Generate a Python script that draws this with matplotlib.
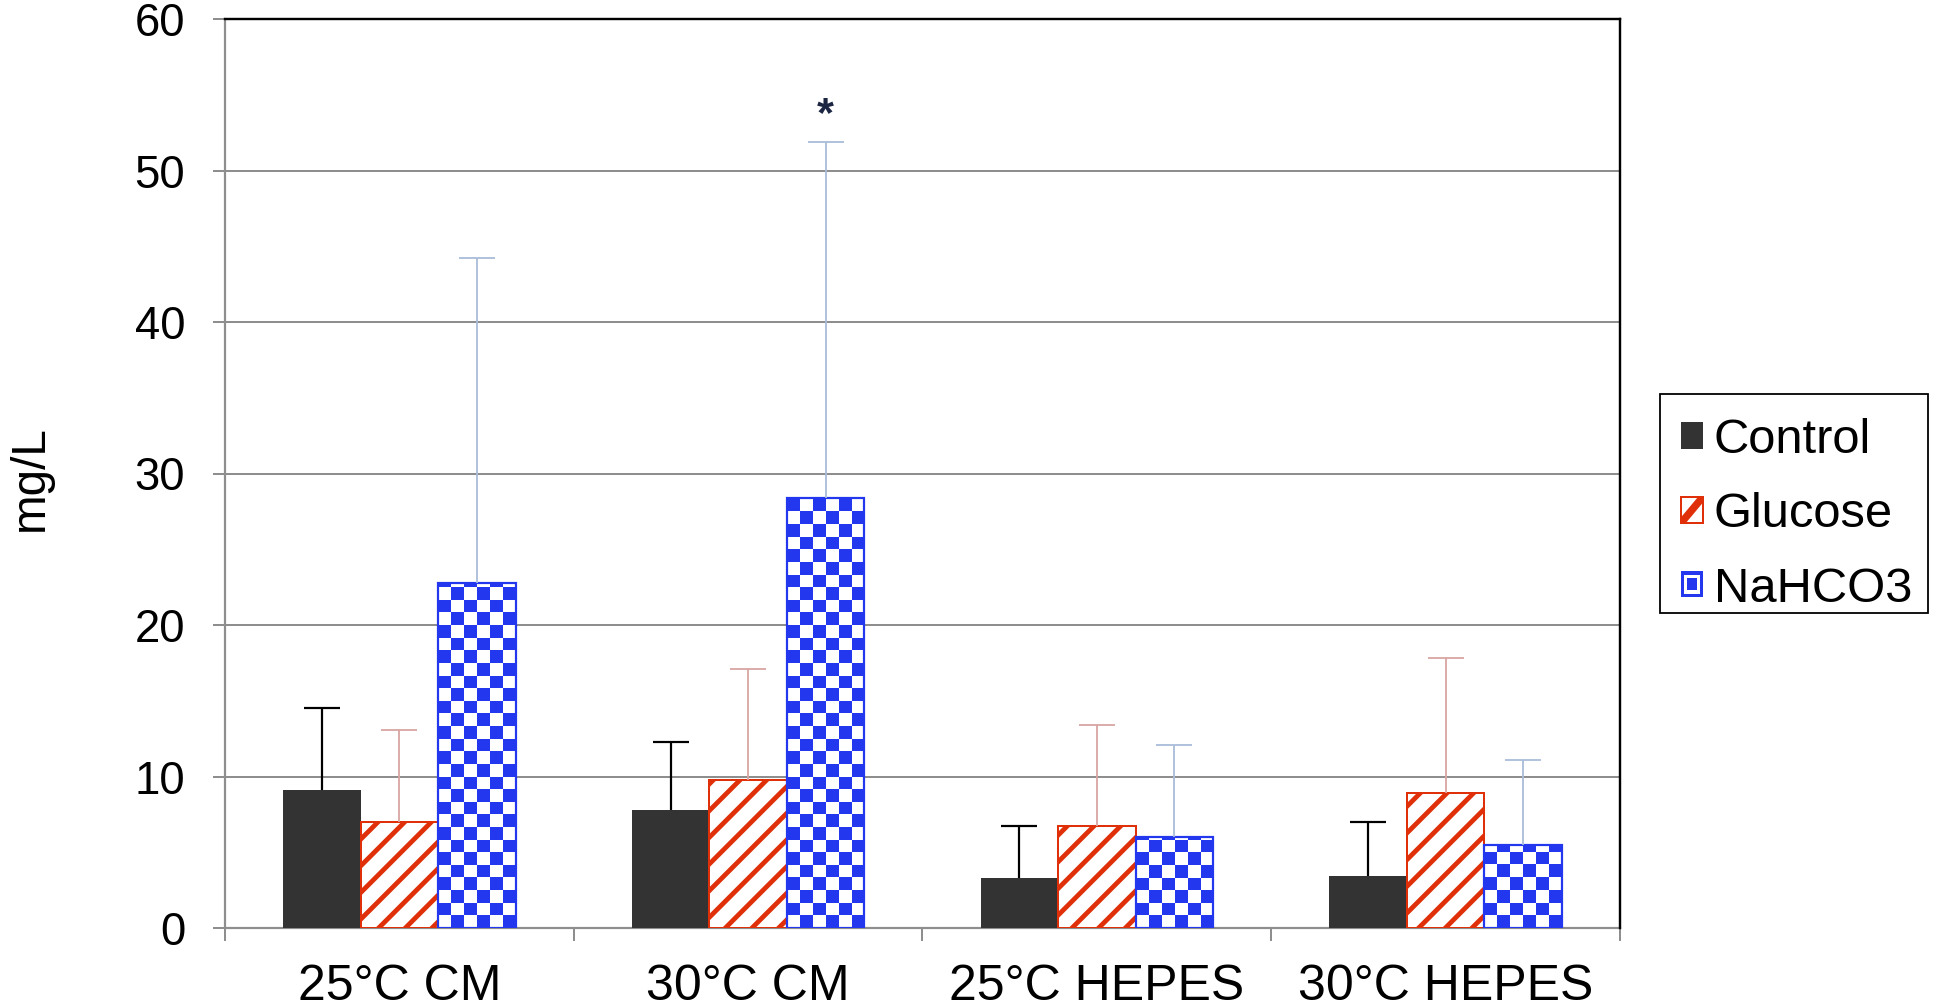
import numpy as np
import matplotlib
matplotlib.use("Agg")
import matplotlib.pyplot as plt
from matplotlib.patches import Rectangle, Polygon
from matplotlib.legend_handler import HandlerBase

# ---- data ----
categories = ["25°C CM", "30°C CM", "25°C HEPES", "30°C HEPES"]
series_names = ["Control", "Glucose", "NaHCO3"]
control = [9.1, 7.8, 3.3, 3.4]
control_err = [5.4, 4.5, 3.4, 3.6]
glucose = [7.0, 9.8, 6.7, 8.9]
glucose_err = [6.1, 7.3, 6.7, 8.9]
nahco3 = [22.8, 28.4, 6.0, 5.5]
nahco3_err = [21.4, 23.5, 6.1, 5.6]
y_ticks = [0, 10, 20, 30, 40, 50, 60]
star_category = 1

# ---- style ----
DPI = 80
W, H = 1933, 1008
plt.rcParams['font.family'] = ['Liberation Sans', 'DejaVu Sans']
plt.rcParams['hatch.linewidth'] = 4.3

C_DARK = '#333333'
C_RED = '#E0300A'
C_BLUE = '#2237EE'
C_RED_ERR = '#D9A5A2'
C_BLUE_ERR = '#A9BDD9'
C_GRID = '#8E8E8E'
ptpx = 72 / DPI  # points per pixel

fig = plt.figure(figsize=(W / DPI, H / DPI), dpi=DPI)
ax = fig.add_axes([225 / W, 1 - 928 / H, (1620 - 225) / W, (928 - 19) / H])

n = len(categories)
centers = np.arange(n) + 0.5
bw = 0.2222


def upper(err):
    return [np.zeros(len(err)), err]


def hide_lower_caps(container, values):
    eb = container.errorbar
    if eb is None:
        return
    for cl in eb.lines[1]:
        if np.allclose(np.asarray(cl.get_ydata(), float), values):
            cl.set_visible(False)


b1 = ax.bar(centers - bw, control, bw, color=C_DARK, edgecolor='none', zorder=3,
            yerr=upper(control_err),
            error_kw=dict(ecolor='black', elinewidth=2.2 * ptpx, capsize=18 * ptpx,
                          capthick=2.2 * ptpx, zorder=4))
b2 = ax.bar(centers, glucose, bw, facecolor='white', edgecolor=C_RED, linewidth=2 * ptpx,
            hatch='/', zorder=3,
            yerr=upper(glucose_err),
            error_kw=dict(ecolor=C_RED_ERR, elinewidth=1.8 * ptpx, capsize=18 * ptpx,
                          capthick=1.8 * ptpx, zorder=4))
b3 = ax.bar(centers + bw, nahco3, bw, facecolor='none', edgecolor=C_BLUE, linewidth=2.2 * ptpx,
            zorder=3.5,
            yerr=upper(nahco3_err),
            error_kw=dict(ecolor=C_BLUE_ERR, elinewidth=1.8 * ptpx, capsize=18 * ptpx,
                          capthick=1.8 * ptpx, zorder=4))
hide_lower_caps(b1, control)
hide_lower_caps(b2, glucose)
hide_lower_caps(b3, nahco3)

# checkerboard texture clipped to each NaHCO3 bar
ax.set_xlim(0, n)
ax.set_ylim(0, 60)
cell_y = 60 * 12.6 / 909.0
ncols = 6
cmap = matplotlib.colors.ListedColormap(['white', C_BLUE])
for patch in b3.patches:
    x0, w, h = patch.get_x(), patch.get_width(), patch.get_height()
    nrows = max(1, int(np.ceil(h / cell_y)))
    ii, jj = np.indices((nrows, ncols))
    board = ((ii + jj) % 2).astype(float)[::-1]
    img = ax.imshow(board, cmap=cmap, extent=(x0, x0 + w, 0, nrows * cell_y),
                    origin='upper', interpolation='nearest', aspect='auto',
                    zorder=3, vmin=0, vmax=1)
    img.set_clip_path(patch)
ax.set_xlim(0, n)
ax.set_ylim(0, 60)

# asterisk
ax.text(centers[star_category] + bw, 52.9, '*', ha='center', va='baseline',
        fontsize=39, fontweight='bold', color='#1C2541', zorder=5)

# axes styling
ax.set_yticks(y_ticks)
ax.set_yticklabels([str(v) for v in y_ticks])
ax.yaxis.grid(True, color=C_GRID, linewidth=2 * ptpx, zorder=0)
ax.set_axisbelow(True)
ax.set_xticks(np.arange(n + 1))
ax.set_xticklabels([''] * (n + 1))
ax.set_xticks(centers, minor=True)
ax.set_xticklabels(categories, minor=True)
ax.tick_params(axis='x', which='major', length=13 * ptpx, width=2 * ptpx, color=C_GRID,
               direction='out')
ax.tick_params(axis='x', which='minor', length=0, pad=36 * ptpx, labelsize=45)
ax.tick_params(axis='y', length=12 * ptpx, width=2 * ptpx, color=C_GRID, direction='out',
               pad=28 * ptpx, labelsize=41)
for s in ['left', 'bottom']:
    ax.spines[s].set_color(C_GRID)
    ax.spines[s].set_linewidth(2.2 * ptpx)
for s in ['top', 'right']:
    ax.spines[s].set_color('black')
    ax.spines[s].set_linewidth(2.4 * ptpx)
    ax.spines[s].set_zorder(6)

ax.set_ylabel('mg/L', fontsize=43)
ax.yaxis.set_label_coords((53 - 225) / (1620 - 225), (928 - 478.5) / 909)


# legend with custom handles
class CtrlHandle: pass
class GluHandle: pass
class NaHandle: pass


class HCtrl(HandlerBase):
    def create_artists(self, legend, orig, xd, yd, w, h, fs, trans):
        return [Rectangle((-xd, -yd), w, h, facecolor=C_DARK, edgecolor='none', transform=trans)]


class HGlu(HandlerBase):
    def create_artists(self, legend, orig, xd, yd, w, h, fs, trans):
        x0, y0 = -xd, -yd
        r = Rectangle((x0, y0), w, h, facecolor='white', edgecolor=C_RED,
                      linewidth=2 * ptpx, transform=trans)
        t = 0.22
        band = Polygon([(x0, y0), (x0 + t * w, y0), (x0 + w, y0 + (1 - t) * h),
                        (x0 + w, y0 + h), (x0 + (1 - t) * w, y0 + h), (x0, y0 + t * h)],
                       closed=True, facecolor=C_RED, edgecolor='none', transform=trans)
        return [r, band]


class HNa(HandlerBase):
    def create_artists(self, legend, orig, xd, yd, w, h, fs, trans):
        x0, y0 = -xd, -yd
        a = Rectangle((x0, y0), w, h, facecolor=C_BLUE, edgecolor='none', transform=trans)
        i1 = 0.14
        b = Rectangle((x0 + i1 * w, y0 + i1 * h), w * (1 - 2 * i1), h * (1 - 2 * i1),
                      facecolor='white', edgecolor='none', transform=trans)
        i2 = 0.28
        c = Rectangle((x0 + i2 * w, y0 + i2 * h), w * (1 - 2 * i2), h * (1 - 2 * i2),
                      facecolor=C_BLUE, edgecolor='none', transform=trans)
        return [a, b, c]


handles = [CtrlHandle(), GluHandle(), NaHandle()]
leg_fs = 44
leg = fig.legend(handles, series_names, loc='upper left',
                 bbox_to_anchor=(1681 / W, 1 - 418 / H), bbox_transform=fig.transFigure,
                 borderaxespad=0, borderpad=0, fontsize=leg_fs, frameon=False,
                 handlelength=22 * ptpx / leg_fs, handleheight=22 * ptpx / leg_fs,
                 handletextpad=11 * ptpx / leg_fs, labelspacing=0.6,
                 handler_map={CtrlHandle: HCtrl(), GluHandle: HGlu(), NaHandle: HNa()})

# legend box
fig.patches.append(Rectangle((1660 / W, 1 - 613 / H), (1928 - 1660) / W, (613 - 394) / H,
                             transform=fig.transFigure, fill=False, edgecolor='black',
                             linewidth=1.8 * ptpx, zorder=10))

fig.savefig('out.png', dpi=DPI)
